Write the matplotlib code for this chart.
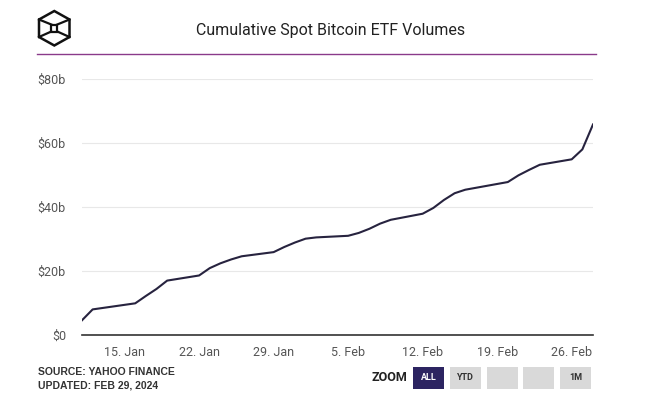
## Cumulative spot bitcoin ETF volumes, line chart with a fake zoom bar

import numpy as np
import pandas as pd
import matplotlib
matplotlib.use('Agg')
import matplotlib.pyplot as plt
import matplotlib.dates as mdates
from matplotlib.patches import Rectangle, Polygon
from matplotlib.lines import Line2D

matplotlib.rcParams['font.family'] = ['Roboto', 'DejaVu Sans']

# Data (billions of USD, trading days only)
dates = ['2024-01-11', '2024-01-12', '2024-01-16', '2024-01-17', '2024-01-18',
         '2024-01-19', '2024-01-22', '2024-01-23', '2024-01-24', '2024-01-25',
         '2024-01-26', '2024-01-29', '2024-01-30', '2024-01-31', '2024-02-01',
         '2024-02-02', '2024-02-05', '2024-02-06', '2024-02-07', '2024-02-08',
         '2024-02-09', '2024-02-12', '2024-02-13', '2024-02-14', '2024-02-15',
         '2024-02-16', '2024-02-20', '2024-02-21', '2024-02-22', '2024-02-23',
         '2024-02-26', '2024-02-27', '2024-02-28']
volume = [4.6, 8.0, 9.9, 12.2, 14.4,
          17.0, 18.6, 20.9, 22.4, 23.6,
          24.6, 25.9, 27.5, 28.9, 30.1,
          30.5, 31.0, 31.9, 33.2, 34.8,
          36.0, 37.9, 39.7, 42.2, 44.3,
          45.4, 47.8, 49.9, 51.6, 53.2,
          54.9, 58.0, 65.8]
yticks = [0, 20, 40, 60, 80]
ytick_labels = ['$0', '$20b', '$40b', '$60b', '$80b']
xticks = ['2024-01-15', '2024-01-22', '2024-01-29', '2024-02-05',
          '2024-02-12', '2024-02-19', '2024-02-26']
zoom_buttons = ['ALL', 'YTD', '', '', '1M']

W, H = 647, 394
fig = plt.figure(figsize=(W/100, H/100), dpi=100)
fig.patch.set_facecolor('white')

# plot area in pixels: left 82, right 593, top 79, bottom 335
ax = fig.add_axes([82/W, 1-335/H, (593-82)/W, (335-79)/H])
x = pd.to_datetime(dates)
ax.plot(x, volume, color='#27233f', lw=1.5, solid_joinstyle='round')

ax.set_ylim(0, 80)
ax.set_xlim(x[0], x[-1])
ax.set_yticks(yticks)
ax.set_yticklabels(ytick_labels)
ax.set_xticks(pd.to_datetime(xticks))
ax.xaxis.set_major_formatter(mdates.DateFormatter('%-d. %b'))
ax.grid(axis='y', color='#e8e8e8', lw=0.8)
ax.set_axisbelow(True)
for s in ['top', 'right', 'left']:
    ax.spines[s].set_visible(False)
ax.spines['bottom'].set_color('#333333')
ax.spines['bottom'].set_linewidth(1.2)
ax.tick_params(axis='both', length=0, labelsize=9, colors='#555555')
ax.tick_params(axis='y', pad=11.5)
ax.tick_params(axis='x', pad=8)

# title and purple rule
fig.text(331/W, 1-30.5/H, 'Cumulative Spot Bitcoin ETF Volumes', ha='center', va='center',
         fontsize=11.5, color='#222222')
fig.add_artist(Line2D([37/W, 596/W], [1-54/H, 1-54/H], color='#8a3a8a', lw=1.0))

# logo: cube outline
hexv = [(54.3, 11), (69.5, 19.5), (69.5, 37), (54.3, 45.5), (39, 37), (39, 19.5)]
fig.add_artist(Polygon([(a/W, 1-b/H) for a, b in hexv], closed=True, fill=False,
                       edgecolor='#111111', lw=1.8))
sq = [(51.3, 24.5), (57.3, 24.5), (57.3, 31.5), (51.3, 31.5)]
fig.add_artist(Polygon([(a/W, 1-b/H) for a, b in sq], closed=True, fill=False,
                       edgecolor='#111111', lw=1.6))
for (a, b), (c, d) in [((39, 19.5), (51.3, 24.5)), ((69.5, 19.5), (57.3, 24.5)),
                       ((39, 37), (51.3, 31.5)), ((69.5, 37), (57.3, 31.5))]:
    fig.add_artist(Line2D([a/W, c/W], [1-b/H, 1-d/H], color='#111111', lw=1.6))

# source note
fig.text(38/W, 1-372/H, 'SOURCE: YAHOO FINANCE', fontsize=7.5, fontweight='bold',
         color='#333333', va='center', family=['Liberation Sans', 'DejaVu Sans'])
fig.text(38/W, 1-385/H, 'UPDATED: FEB 29, 2024', fontsize=7.5, fontweight='bold',
         color='#333333', va='center', family=['Liberation Sans', 'DejaVu Sans'])

# zoom buttons
fig.text(389.5/W, 1-377.5/H, 'ZOOM', fontsize=9, fontweight='bold', color='#222222',
         ha='center', va='center')
bx = [413, 450, 487, 523, 560]
for i, lab in enumerate(zoom_buttons):
    fc = '#2c2461' if i == 0 else '#d9d9d9'
    tc = 'white' if i == 0 else '#333333'
    fig.add_artist(Rectangle((bx[i]/W, 1-388.5/H), 31/W, 22/H, facecolor=fc,
                             edgecolor='none'))
    if lab:
        fig.text((bx[i]+15.5)/W, 1-377.5/H, lab, fontsize=6.5, fontweight='bold',
                 color=tc, ha='center', va='center')

fig.savefig('out.png', dpi=100)
